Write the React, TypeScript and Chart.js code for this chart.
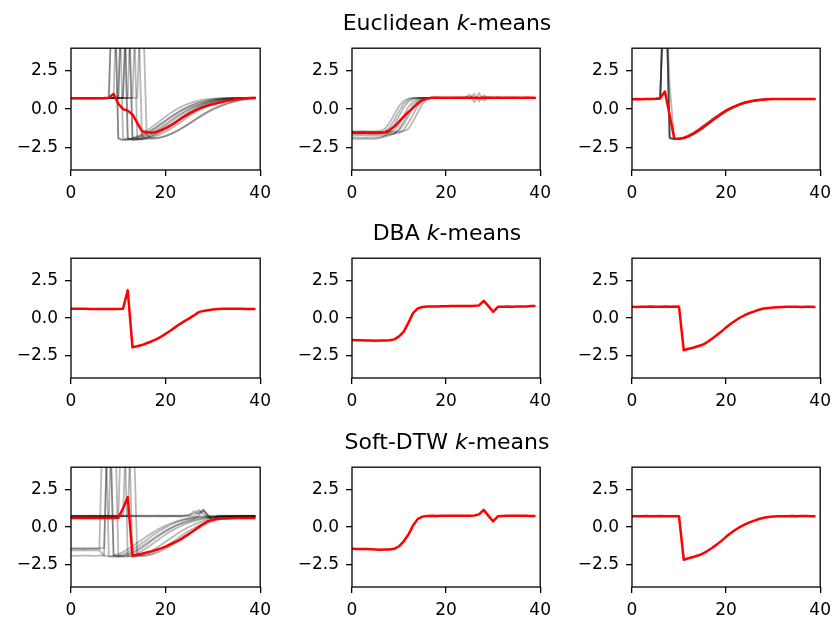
import React, { useEffect, useRef } from "react";
import { Chart, registerables } from "chart.js";
Chart.register(...registerables);

const T = [0,1,2,3,4,5,6,7,8,9,10,11,12,13,14,15,16,17,18,19,20,21,22,23,24,25,26,27,28,29,30,31,32,33,34,35,36,37,38,39];
const Y_TICKS = [-2.5, 0, 2.5];
const X_TICKS = [0, 20, 40];
const TITLES = ["Euclidean", "DBA", "Soft-DTW"];

// ---- Euclidean k-means, cluster 1
const eucMean1 = [0.72,0.72,0.71,0.72,0.72,0.71,0.72,0.73,0.75,1.0, 0.35,0.0,-0.1,-0.35,-0.9, -1.45,-1.52,-1.55,-1.5,-1.38, -1.25,-1.08,-0.9,-0.68,-0.48, -0.3,-0.14,0.02,0.14,0.24, 0.32,0.4,0.47,0.54,0.6, 0.64,0.68,0.71,0.73,0.74];
const eA1 = [0.72,0.71,0.73,0.72,0.7,0.72,0.73,0.71,0.72,11.5, -1.95,-2.02,-1.98,-1.9,-1.78, -1.62,-1.42,-1.2,-0.98,-0.74, -0.5,-0.28,-0.08,0.1,0.25, 0.38,0.48,0.56,0.62,0.66, 0.69,0.71,0.72,0.72,0.73, 0.72,0.73,0.72,0.73,0.72];
const eA2 = [0.7,0.71,0.72,0.7,0.71,0.72,0.7,0.71,0.74,10.2, -1.9,-2.05,-2.0,-1.95,-1.85, -1.72,-1.56,-1.38,-1.18,-0.96, -0.74,-0.52,-0.32,-0.12,0.05, 0.2,0.33,0.44,0.52,0.59, 0.64,0.68,0.7,0.72,0.72, 0.73,0.72,0.72,0.73,0.72];
const eA3 = [0.73,0.72,0.72,0.71,0.73,0.72,0.72,0.71,0.72,0.73, 0.74,10.8,-1.9,-2.0,-1.98, -1.92,-1.82,-1.68,-1.5,-1.3, -1.08,-0.86,-0.63,-0.42,-0.22, -0.04,0.12,0.26,0.38,0.48, 0.56,0.62,0.66,0.69,0.71, 0.72,0.72,0.73,0.72,0.72];
const eA4 = [0.71,0.72,0.72,0.73,0.72,0.71,0.72,0.72,0.73,0.72, 0.71,0.73,9.6,-1.85,-2.0, -1.98,-1.9,-1.8,-1.66,-1.5, -1.32,-1.12,-0.9,-0.68,-0.46, -0.26,-0.08,0.08,0.22,0.34, 0.44,0.52,0.58,0.63,0.67, 0.7,0.71,0.72,0.72,0.73];
const eA5 = [0.72,0.72,0.71,0.72,0.73,0.72,0.72,0.71,0.72,0.72, 0.73,0.72,0.74,10.4,-1.9, -1.98,-1.95,-1.88,-1.78,-1.64, -1.48,-1.3,-1.1,-0.9,-0.68, -0.46,-0.26,-0.08,0.08,0.22, 0.34,0.44,0.52,0.58,0.63, 0.67,0.7,0.71,0.72,0.72];
const eA6 = [0.72,0.73,0.72,0.72,0.71,0.72,0.72,0.73,0.72,0.71, 0.72,0.72,0.73,0.75,9.2, -1.8,-1.92,-1.95,-1.92,-1.86, -1.77,-1.65,-1.5,-1.33,-1.14, -0.94,-0.73,-0.52,-0.32,-0.14, 0.02,0.16,0.28,0.39,0.48, 0.56,0.62,0.66,0.69,0.71];
const eA7 = [0.72,0.71,0.72,0.72,0.72,0.73,0.71,0.72,0.72,0.72, 0.72,0.74,8.9,-2.0,-1.95, -1.85,-1.72,-1.56,-1.38,-1.18, -0.96,-0.74,-0.52,-0.32,-0.14, 0.02,0.16,0.28,0.38,0.46, 0.53,0.59,0.64,0.67,0.7, 0.71,0.72,0.72,0.73,0.72];
const eA8 = [0.72,0.72,0.73,0.72,0.71,0.72,0.72,0.72,0.73,0.72, 0.75,9.8,-1.95,-2.02,-2.0, -1.95,-1.87,-1.76,-1.62,-1.45, -1.26,-1.05,-0.83,-0.6,-0.38, -0.18,0.0,0.15,0.28,0.39, 0.48,0.55,0.61,0.65,0.68, 0.7,0.71,0.72,0.72,0.72];
const eA9 = [0.71,0.72,0.72,0.72,0.73,0.72,0.71,0.72,0.72,0.74, 10.6,-1.92,-2.0,-1.96,-1.88, -1.76,-1.6,-1.42,-1.22,-1.0, -0.78,-0.56,-0.35,-0.16,0.0, 0.15,0.28,0.39,0.48,0.55, 0.61,0.65,0.68,0.7,0.71, 0.72,0.72,0.72,0.73,0.72];
const eA10 = [0.72,0.72,0.71,0.72,0.72,0.73,0.72,0.72,0.71,0.72, 0.72,0.73,0.72,0.72,0.74, 9.0,-1.7,-1.9,-1.9,-1.85, -1.76,-1.64,-1.5,-1.34,-1.16, -0.97,-0.77,-0.57,-0.38,-0.2, -0.04,0.1,0.23,0.34,0.44, 0.52,0.59,0.64,0.68,0.71];

// ---- Euclidean k-means, cluster 2
const eucMean2 = [-1.55,-1.56,-1.55,-1.56,-1.57,-1.56,-1.55,-1.52,-1.38,-1.15, -0.82,-0.5,-0.18,0.08,0.38, 0.6,0.7,0.74,0.75,0.74, 0.74,0.75,0.74,0.74,0.75, 0.74,0.75,0.73,0.74,0.75, 0.74,0.74,0.75,0.74,0.74, 0.75,0.74,0.74,0.74,0.74];
const eB1 = [-1.45,-1.46,-1.44,-1.45,-1.46,-1.45,-1.44,-1.3,-0.9,-0.35, 0.2,0.55,0.7,0.74,0.73, 0.74,0.73,0.74,0.75,0.74, 0.73,0.74,0.75,0.74,0.74, 0.76,0.72,0.74,0.75,0.74, 0.73,0.74,0.74,0.75,0.74, 0.74,0.73,0.74,0.75,0.74];
const eB2 = [-1.55,-1.54,-1.55,-1.56,-1.55,-1.54,-1.55,-1.56,-1.52,-1.4, -1.0,-0.4,0.15,0.5,0.68, 0.73,0.74,0.73,0.74,0.75, 0.74,0.73,0.74,0.74,0.75, 0.74,0.73,0.74,0.74,0.75, 0.74,0.74,0.73,0.74,0.75, 0.74,0.74,0.73,0.74,0.74];
const eB3 = [-1.85,-1.86,-1.88,-1.87,-1.86,-1.85,-1.84,-1.8,-1.72,-1.62, -1.4,-1.0,-0.45,0.1,0.48, 0.66,0.72,0.73,0.74,0.73, 0.74,0.74,0.73,0.74,0.75, 0.74,0.73,0.74,0.74,0.73, 0.74,0.75,0.74,0.74,0.73, 0.74,0.74,0.75,0.74,0.74];
const eB4 = [-1.6,-1.61,-1.6,-1.62,-1.6,-1.61,-1.6,-1.6,-1.61,-1.6, -1.58,-1.35,-0.9,-0.35,0.2, 0.55,0.7,0.74,0.75,0.74, 0.74,0.75,0.74,0.74,0.76, 0.95,0.45,1.05,0.55,0.78, 0.74,0.75,0.74,0.74,0.75, 0.74,0.74,0.75,0.74,0.74];
const eB5 = [-1.5,-1.51,-1.5,-1.49,-1.5,-1.51,-1.5,-1.48,-1.2,-0.7, -0.15,0.35,0.62,0.72,0.74, 0.74,0.73,0.74,0.75,0.74, 0.74,0.73,0.74,0.75,0.74, 0.74,0.75,0.73,0.74,0.74, 0.75,0.74,0.74,0.73,0.74, 0.75,0.74,0.74,0.74,0.73];
const eB6 = [-1.7,-1.71,-1.7,-1.72,-1.7,-1.69,-1.7,-1.71,-1.68,-1.6, -1.3,-0.8,-0.25,0.3,0.6, 0.72,0.74,0.74,0.73,0.74, 0.75,0.74,0.74,0.74,0.73, 0.74,1.0,0.5,0.9,0.74, 0.74,0.75,0.74,0.74,0.74, 0.73,0.74,0.75,0.74,0.74];
const eB7 = [-1.5,-1.52,-1.5,-1.51,-1.5,-1.52,-1.5,-1.51,-1.5,-1.5, -1.49,-1.45,-1.3,-0.8,-0.2, 0.35,0.65,0.74,0.75,0.74, 0.74,0.74,0.75,0.74,0.74, 0.73,0.74,0.75,0.74,0.74, 0.74,0.75,0.74,0.74,0.74, 0.75,0.74,0.74,0.73,0.74];
const eB8 = [-1.95,-1.96,-1.95,-1.94,-1.95,-1.96,-1.9,-1.75,-1.45,-1.0, -0.45,0.1,0.5,0.68,0.73, 0.74,0.74,0.75,0.74,0.74, 0.74,0.73,0.74,0.75,0.74, 0.74,0.74,0.73,0.74,0.75, 0.74,0.74,0.74,0.75,0.74, 0.74,0.73,0.74,0.74,0.74];

// ---- Euclidean k-means, cluster 3
const eucMean3 = [0.65,0.66,0.65,0.67,0.66,0.68,0.72,1.15,-0.4,-1.95, -1.95,-1.9,-1.78,-1.62,-1.42, -1.2,-0.98,-0.74,-0.52,-0.3, -0.1,0.06,0.2,0.33,0.43, 0.5,0.56,0.6,0.63,0.65, 0.66,0.66,0.67,0.67,0.66, 0.67,0.66,0.67,0.66,0.66];
const eC1 = [0.66,0.65,0.66,0.67,0.66,0.66,0.68,11.5,-1.9,-1.98, -1.95,-1.88,-1.75,-1.58,-1.38, -1.16,-0.93,-0.7,-0.48,-0.27, -0.08,0.08,0.22,0.34,0.43, 0.5,0.56,0.6,0.63,0.65, 0.66,0.66,0.67,0.66,0.67, 0.66,0.67,0.66,0.66,0.67];
const eC2 = [0.64,0.65,0.66,0.65,0.66,0.67,0.7,10.2,-1.85,-1.95, -1.96,-1.92,-1.8,-1.65,-1.46, -1.25,-1.02,-0.79,-0.56,-0.34, -0.14,0.03,0.17,0.3,0.4, 0.48,0.54,0.59,0.62,0.64, 0.65,0.66,0.66,0.67,0.66, 0.66,0.67,0.66,0.67,0.66];
const eC3 = [0.66,0.66,0.65,0.66,0.67,0.66,0.7,10.8,-1.92,-1.97, -1.93,-1.85,-1.72,-1.55,-1.35, -1.13,-0.9,-0.67,-0.45,-0.25, -0.06,0.1,0.23,0.35,0.44, 0.51,0.56,0.6,0.63,0.65, 0.66,0.67,0.66,0.66,0.67, 0.66,0.66,0.67,0.66,0.66];
const eC4 = [0.65,0.66,0.66,0.65,0.66,0.66,0.67,9.5,1.5,-1.95, -1.97,-1.93,-1.83,-1.68,-1.5, -1.28,-1.05,-0.82,-0.58,-0.36, -0.16,0.02,0.16,0.29,0.39, 0.47,0.53,0.58,0.62,0.64, 0.65,0.66,0.66,0.66,0.67, 0.66,0.66,0.66,0.67,0.66];
const eC5 = [0.67,0.66,0.65,0.66,0.66,0.67,0.69,10.3,-1.9,-1.96, -1.94,-1.9,-1.8,-1.66,-1.48, -1.27,-1.04,-0.8,-0.57,-0.35, -0.15,0.02,0.17,0.3,0.4, 0.48,0.54,0.59,0.62,0.64, 0.66,0.66,0.67,0.66,0.66, 0.67,0.66,0.66,0.66,0.67];

// ---- DBA k-means
const dbaMean1 = [0.62,0.62,0.62,0.62,0.61,0.61,0.6,0.6,0.6,0.6, 0.61,0.63,1.85,-1.95,-1.88, -1.8,-1.68,-1.56,-1.42,-1.25, -1.05,-0.84,-0.62,-0.4,-0.2, -0.02,0.18,0.4,0.48,0.53, 0.57,0.6,0.62,0.63,0.63, 0.62,0.62,0.61,0.6,0.6];
const dbaMean2 = [-1.47,-1.48,-1.48,-1.5,-1.5,-1.52,-1.5,-1.5,-1.48,-1.42, -1.22,-0.9,-0.3,0.35,0.65, 0.74,0.77,0.78,0.78,0.79, 0.79,0.8,0.8,0.8,0.8, 0.81,0.82,0.85,1.15,0.8, 0.42,0.75,0.76,0.77,0.76, 0.78,0.77,0.78,0.8,0.8];
const dbaMean3 = [0.75,0.74,0.76,0.75,0.77,0.75,0.76,0.78,0.76,0.77, 0.75,-2.15,-2.05,-1.98,-1.88, -1.78,-1.6,-1.38,-1.15,-0.9, -0.62,-0.38,-0.16,0.04,0.2, 0.34,0.45,0.56,0.64,0.68, 0.71,0.73,0.74,0.75,0.75, 0.75,0.74,0.75,0.75,0.74];

// ---- Soft-DTW k-means, cluster 1
const sdtwMean1 = [0.6,0.6,0.61,0.6,0.6,0.61,0.61,0.6,0.61,0.61, 0.62,1.25,2.0,-1.92,-1.85, -1.78,-1.7,-1.62,-1.52,-1.42, -1.3,-1.15,-1.0,-0.85,-0.65, -0.45,-0.22,0.0,0.22,0.4, 0.5,0.55,0.57,0.58,0.59, 0.6,0.6,0.6,0.6,0.6];
const sG1 = [0.74,0.75,0.74,0.73,0.74,0.75,0.74,0.74,0.75,0.74, 0.73,0.74,0.75,0.74,0.74, 0.75,0.74,0.73,0.74,0.75, 0.74,0.74,0.75,0.74,0.76, 0.8,1.05,0.9,1.2,0.75, 0.5,0.74,0.75,0.74,0.74, 0.75,0.74,0.74,0.75,0.74];
const sG2 = [0.7,0.71,0.7,0.72,0.71,0.7,0.71,0.72,0.7,0.71, 0.72,0.71,0.7,0.71,0.72, 0.71,0.7,0.72,0.71,0.7, 0.71,0.72,0.71,0.7,0.72, 0.71,0.72,0.95,1.1,0.7, 0.45,0.72,0.71,0.72,0.71, 0.72,0.71,0.7,0.72,0.71];
const sG3 = [-1.45,-1.46,-1.45,-1.44,-1.45,-1.46,-1.45,11.0,-1.95,-1.98, -1.92,-1.82,-1.68,-1.5,-1.3, -1.08,-0.85,-0.62,-0.4,-0.2, -0.02,0.14,0.28,0.4,0.5, 0.57,0.62,0.66,0.69,0.71, 0.72,0.72,0.73,0.72,0.72, 0.73,0.72,0.72,0.73,0.72];
const sG4 = [-1.9,-1.92,-1.9,-1.91,-1.9,-1.92,-1.9,-1.88,10.4,-1.92, -1.98,-1.95,-1.88,-1.76,-1.6, -1.4,-1.18,-0.95,-0.72,-0.5, -0.3,-0.12,0.04,0.18,0.3, 0.4,0.48,0.55,0.6,0.64, 0.67,0.69,0.7,0.71,0.72, 0.72,0.72,0.73,0.72,0.72];
const sG5 = [0.72,0.72,0.71,0.72,0.73,0.72,0.72,0.71,0.73,11.5, -1.9,-1.98,-1.95,-1.88,-1.76, -1.6,-1.4,-1.18,-0.95,-0.72, -0.5,-0.3,-0.12,0.04,0.18, 0.3,0.4,0.48,0.55,0.6, 0.64,0.67,0.69,0.7,0.71, 0.72,0.72,0.72,0.73,0.72];
const sG6 = [0.72,0.71,0.72,0.72,0.73,0.72,0.71,0.72,0.72,0.73, 0.72,0.74,9.3,-1.9,-1.95, -1.92,-1.85,-1.75,-1.62,-1.46, -1.28,-1.08,-0.87,-0.65,-0.44, -0.24,-0.06,0.1,0.24,0.36, 0.46,0.54,0.6,0.65,0.68, 0.7,0.71,0.72,0.72,0.72];
const sG7 = [0.72,0.72,0.71,0.72,0.72,0.73,0.72,0.72,0.71,0.72, 0.72,0.73,0.74,9.2,-1.85, -1.92,-1.9,-1.84,-1.74,-1.6, -1.44,-1.26,-1.06,-0.85,-0.63, -0.42,-0.22,-0.04,0.12,0.26, 0.38,0.47,0.55,0.61,0.65, 0.68,0.7,0.71,0.72,0.72];
const sG8 = [-1.55,-1.56,-1.55,-1.54,-1.55,-1.56,-1.55,-1.9,-1.95,-1.9, -1.8,-1.66,-1.48,-1.28,-1.06, -0.84,-0.62,-0.42,-0.22,-0.05, 0.1,0.24,0.35,0.45,0.53, 0.59,0.64,0.67,0.7,0.71, 0.72,0.71,0.72,0.72,0.71, 0.72,0.72,0.71,0.72,0.72];
const sG9 = [0.72,0.72,0.73,0.72,0.71,0.72,0.72,0.72,0.73,0.72, 0.73,10.4,-1.95,-1.98,-1.94, -1.86,-1.74,-1.58,-1.4,-1.2, -0.98,-0.76,-0.54,-0.34,-0.15, 0.02,0.17,0.3,0.41,0.5, 0.57,0.62,0.66,0.69,0.7, 0.71,0.72,0.72,0.72,0.72];
const sG10 = [-1.4,-1.41,-1.4,-1.42,-1.4,-1.41,-1.4,-1.4,10.3,-1.85, -1.95,-1.9,-1.8,-1.66,-1.48, -1.28,-1.06,-0.84,-0.62,-0.42, -0.23,-0.06,0.1,0.24,0.36, 0.46,0.54,0.75,1.1,0.8, 0.66,0.69,0.7,0.71,0.72, 0.72,0.72,0.72,0.72,0.72];
const sG11 = [0.76,0.77,0.76,0.76,0.77,0.76,0.77,0.76,0.76,0.77, 0.76,0.77,0.76,0.76,0.77, 0.76,0.76,0.77,0.76,0.77, 0.76,0.77,0.76,0.76,0.78, 0.82,0.9,1.15,0.85,0.6, 0.72,0.76,0.77,0.76,0.76, 0.77,0.76,0.77,0.76,0.76];

// ---- Soft-DTW k-means, clusters 2 and 3
const sdtwMean2 = [-1.45,-1.46,-1.47,-1.47,-1.48,-1.5,-1.52,-1.5,-1.5,-1.45, -1.28,-0.95,-0.5,0.12,0.55, 0.7,0.74,0.75,0.74,0.75, 0.76,0.75,0.76,0.76,0.75, 0.76,0.78,0.85,1.15,0.75, 0.38,0.72,0.74,0.75,0.75, 0.76,0.75,0.75,0.74,0.74];
const sdtwMean3 = [0.72,0.73,0.72,0.74,0.73,0.72,0.74,0.73,0.72,0.73, 0.72,-2.18,-2.08,-2.0,-1.9, -1.78,-1.6,-1.4,-1.17,-0.92, -0.65,-0.4,-0.18,0.02,0.18, 0.32,0.43,0.54,0.62,0.67, 0.7,0.72,0.73,0.73,0.74, 0.73,0.74,0.74,0.73,0.73];

const COL_LEFT = [71, 352, 632];
const COL_WIDTH = [191, 190, 190];
const ROW_TOP = [43, 253, 462];
const ROW_HEIGHT = [127, 125, 125];

const PANELS = [
  { r: 0, c: 0, mean: eucMean1, greys: [eA1, eA2, eA3, eA4, eA5, eA6, eA7, eA8, eA9, eA10] },
  { r: 0, c: 1, mean: eucMean2, greys: [eB1, eB2, eB3, eB4, eB5, eB6, eB7, eB8] },
  { r: 0, c: 2, mean: eucMean3, greys: [eC1, eC2, eC3, eC4, eC5] },
  { r: 1, c: 0, mean: dbaMean1, greys: [] },
  { r: 1, c: 1, mean: dbaMean2, greys: [] },
  { r: 1, c: 2, mean: dbaMean3, greys: [] },
  { r: 2, c: 0, mean: sdtwMean1, greys: [sG1, sG2, sG3, sG4, sG5, sG6, sG7, sG8, sG9, sG10, sG11] },
  { r: 2, c: 1, mean: sdtwMean2, greys: [] },
  { r: 2, c: 2, mean: sdtwMean3, greys: [] },
];

const PAD_L = 62, PAD_T = 12, PAD_R = 16, PAD_B = 42;
const FONT = "'DejaVu Sans', sans-serif";

const framePlugin = {
  id: "frame",
  afterDatasetsDraw(chart: any) {
    const { ctx, chartArea: a } = chart;
    ctx.save();
    ctx.strokeStyle = "#000";
    ctx.lineWidth = 1.3;
    ctx.strokeRect(a.left, a.top, a.right - a.left, a.bottom - a.top);
    ctx.restore();
  },
};

function Panel({ p }: { p: any }) {
  const ref = useRef<HTMLCanvasElement>(null);
  const w = COL_WIDTH[p.c] + PAD_L + PAD_R;
  const h = ROW_HEIGHT[p.r] + PAD_T + PAD_B;
  useEffect(() => {
    const toPts = (arr: number[]) => T.map((x, i) => ({ x, y: arr[i] }));
    const datasets: any[] = [
      { data: toPts(p.mean), borderColor: "#ff0000", borderWidth: 2.5 },
      ...p.greys.map((g: number[]) => ({ data: toPts(g), borderColor: "rgba(0,0,0,0.28)", borderWidth: 1.8 })),
    ];
    const tickFont = { family: FONT, size: 17 };
    const chart = new Chart(ref.current as HTMLCanvasElement, {
      type: "line",
      data: { datasets },
      plugins: [framePlugin],
      options: {
        responsive: false,
        animation: false,
        events: [],
        layout: { padding: { left: 0, top: PAD_T, right: PAD_R, bottom: 0 } },
        elements: {
          point: { radius: 0 },
          line: { tension: 0, borderJoinStyle: "round", fill: false },
        },
        plugins: { legend: { display: false }, tooltip: { enabled: false }, title: { display: false } },
        scales: {
          x: {
            type: "linear",
            min: 0,
            max: 40,
            afterBuildTicks: (s: any) => { s.ticks = X_TICKS.map((v) => ({ value: v })); },
            afterFit: (s: any) => { s.height = PAD_B; },
            grid: { drawOnChartArea: false, drawTicks: true, tickLength: 6, color: "#000", lineWidth: 1.3 },
            border: { display: false },
            ticks: { font: tickFont, color: "#000", padding: 7, maxRotation: 0, autoSkip: false, callback: (v: any) => String(v) },
          },
          y: {
            type: "linear",
            min: -4,
            max: 4,
            afterBuildTicks: (s: any) => { s.ticks = Y_TICKS.map((v) => ({ value: v })); },
            afterFit: (s: any) => { s.width = PAD_L; },
            grid: { drawOnChartArea: false, drawTicks: true, tickLength: 6, color: "#000", lineWidth: 1.3 },
            border: { display: false },
            ticks: {
              font: tickFont,
              color: "#000",
              padding: 7,
              autoSkip: false,
              callback: (v: any) => (v < 0 ? "\u2212" : "") + Math.abs(Number(v)).toFixed(1),
            },
          },
        },
      } as any,
    });
    return () => chart.destroy();
  }, []);
  return (
    <canvas
      ref={ref}
      width={w}
      height={h}
      style={{ position: "absolute", left: COL_LEFT[p.c] - PAD_L, top: ROW_TOP[p.r] - PAD_T, width: w, height: h, display: "block" }}
    />
  );
}

export default function App() {
  const titleTops = [12, 222, 431];
  return (
    <div style={{ position: "absolute", left: 0, top: 0, width: 835, height: 622, background: "#fff", overflow: "hidden" }}>
      {PANELS.map((p, i) => (
        <Panel key={i} p={p} />
      ))}
      {TITLES.map((t, i) => (
        <div
          key={t}
          style={{
            position: "absolute",
            left: COL_LEFT[1] - 50,
            width: COL_WIDTH[1] + 100,
            top: titleTops[i],
            textAlign: "center",
            fontFamily: FONT,
            fontSize: 22,
            lineHeight: "22px",
            color: "#000",
            whiteSpace: "nowrap",
          }}
        >
          {t} <i>k</i>-means
        </div>
      ))}
    </div>
  );
}
